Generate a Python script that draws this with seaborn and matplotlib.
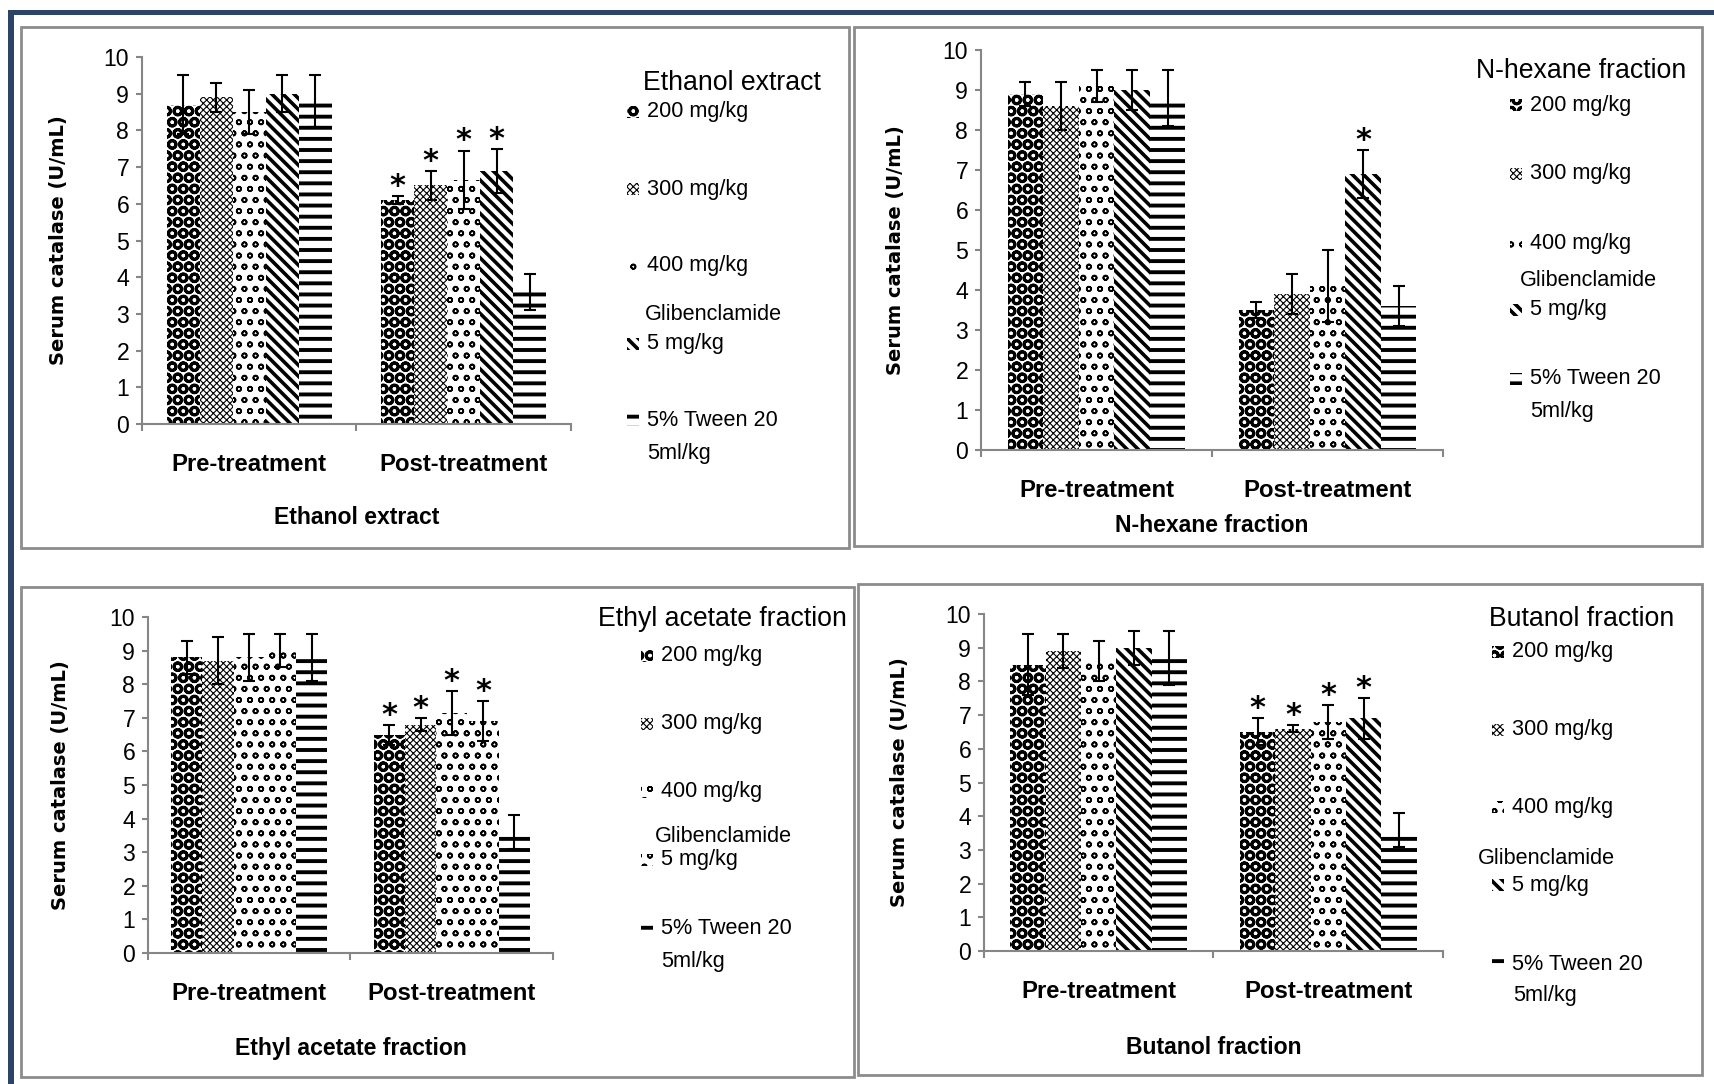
import numpy as np
import pandas as pd
import matplotlib
matplotlib.use("Agg")
import matplotlib.pyplot as plt
import seaborn as sns
from matplotlib.patches import Rectangle

# ---------------- data ----------------
periods = ["Pre-treatment", "Post-treatment"]
groups = ["200 mg/kg", "300 mg/kg", "400 mg/kg", "Glibenclamide\n5 mg/kg", "5% Tween 20\n5ml/kg"]
panel_titles = ["Ethanol extract", "N-hexane fraction", "Ethyl acetate fraction", "Butanol fraction"]
y_label = "Serum catalase (U/mL)"
y_ticks = [0, 1, 2, 3, 4, 5, 6, 7, 8, 9, 10]

ethanol_pre = [8.7, 8.9, 8.5, 9.0, 8.8]
ethanol_pre_err = [0.8, 0.4, 0.6, 0.5, 0.7]
ethanol_post = [6.1, 6.5, 6.65, 6.9, 3.6]
ethanol_post_err = [0.1, 0.4, 0.8, 0.6, 0.5]
ethanol_post_sig = [1, 1, 1, 1, 0]

hexane_pre = [8.9, 8.6, 9.1, 9.0, 8.8]
hexane_pre_err = [0.3, 0.6, 0.4, 0.5, 0.7]
hexane_post = [3.5, 3.9, 4.1, 6.9, 3.6]
hexane_post_err = [0.2, 0.5, 0.9, 0.6, 0.5]
hexane_post_sig = [0, 0, 0, 1, 0]

ethyl_pre = [8.8, 8.7, 8.8, 9.0, 8.8]
ethyl_pre_err = [0.5, 0.7, 0.7, 0.5, 0.7]
ethyl_post = [6.5, 6.8, 7.15, 6.9, 3.6]
ethyl_post_err = [0.3, 0.2, 0.65, 0.6, 0.5]
ethyl_post_sig = [1, 1, 1, 1, 0]

butanol_pre = [8.5, 8.9, 8.6, 9.0, 8.7]
butanol_pre_err = [0.9, 0.5, 0.6, 0.5, 0.8]
butanol_post = [6.5, 6.6, 6.8, 6.9, 3.6]
butanol_post_err = [0.4, 0.1, 0.5, 0.6, 0.5]
butanol_post_sig = [1, 1, 1, 1, 0]

panels_data = [
    (ethanol_pre, ethanol_pre_err, ethanol_post, ethanol_post_err, ethanol_post_sig),
    (hexane_pre, hexane_pre_err, hexane_post, hexane_post_err, hexane_post_sig),
    (ethyl_pre, ethyl_pre_err, ethyl_post, ethyl_post_err, ethyl_post_sig),
    (butanol_pre, butanol_pre_err, butanol_post, butanol_post_err, butanol_post_sig),
]

# ---------------- styles / layout ----------------
W, H, DPI = 1715, 1084, 200
sns.set_theme(style="white")
plt.rcParams["font.family"] = ["Liberation Sans", "DejaVu Sans"]
plt.rcParams["hatch.linewidth"] = 1.0

HATCHES = {
    "balls": ("OOO", 1.05),
    "cross": ("x" * 10, 0.4),
    "wave": ("ooo", 0.6),
    "diag": ("\\" * 6, 1.3),
    "hlines": ("---", 1.4),
}
series_hatch = [
    ["balls", "cross", "wave", "diag", "hlines"],
    ["balls", "cross", "wave", "diag", "hlines"],
    ["balls", "cross", "wave", "wave", "hlines"],
    ["balls", "cross", "wave", "diag", "hlines"],
]

# axes box in pixels: left, right, top(y=10), bottom(y=0)
axes_px = [(142, 571, 57, 424), (981, 1443, 50, 450), (148, 553, 617, 953), (984, 1443, 614, 951)]
xlabel_off = [-0.256, -0.19, -0.283, -0.285]
ylabel_off = [-0.195, -0.184, -0.215, -0.185]
panel_boxes = [(21, 27, 849, 548), (854, 27, 1702, 546), (21, 587, 854, 1077), (858, 584, 1702, 1075)]
legend_layout = [
    dict(title=(643, 83), mx=633, tx=647, ys=[112, 189, 265, 344, 420], gl=(645, 314), t2=(647, 454)),
    dict(title=(1476, 71), mx=1516, tx=1530, ys=[105, 174, 243, 310, 379], gl=(1520, 281), t2=(1530, 411)),
    dict(title=(598, 619), mx=647, tx=661, ys=[656, 724, 792, 860, 928], gl=(655, 837), t2=(661, 962)),
    dict(title=(1489, 619), mx=1498, tx=1512, ys=[652, 730, 807, 885, 964], gl=(1478, 859), t2=(1513, 995)),
]

GRAY = "#868686"


def fx(x):
    return x / W


def fy(y):
    return 1 - y / H


def style_patch(p, key):
    h, lw = HATCHES[key]
    p.set_facecolor("white")
    p.set_edgecolor("black")
    p.set_linewidth(0)
    p.set_hatch(h)
    if hasattr(p, "set_hatch_linewidth"):
        p.set_hatch_linewidth(lw)


fig = plt.figure(figsize=(W / DPI, H / DPI), dpi=DPI)
fig.patch.set_facecolor("white")

# outer page frame (top and left dark lines)
fig.add_artist(Rectangle((fx(8), fy(15)), fx(W - 8), 5 / H, transform=fig.transFigure,
                         facecolor="#2C4466", edgecolor="none", zorder=0))
fig.add_artist(Rectangle((fx(8), 0), 6 / W, fy(10), transform=fig.transFigure,
                         facecolor="#2C4466", edgecolor="none", zorder=0))

for k in range(4):
    x0, y0, x1, y1 = panel_boxes[k]
    fig.add_artist(Rectangle((fx(x0), fy(y1)), (x1 - x0) / W, (y1 - y0) / H, transform=fig.transFigure,
                             fill=False, edgecolor="#8C8C8C", linewidth=1.0, zorder=0))

    l, r, t, b = axes_px[k]
    ax = fig.add_axes([fx(l), fy(b), (r - l) / W, (b - t) / H])
    pre, pre_err, post, post_err, sig = panels_data[k]
    df = pd.DataFrame({
        "period": np.repeat(periods, len(groups)),
        "group": groups * 2,
        "value": list(pre) + list(post),
    })
    sns.barplot(data=df, x="period", y="value", hue="group", order=periods, hue_order=groups,
                palette={g: "white" for g in groups}, saturation=1, width=0.77,
                errorbar=None, legend=False, ax=ax)

    errs = [list(pre_err), list(post_err)]
    sigs = [[0] * len(groups), list(sig)]
    bar_containers = list(ax.containers)
    for i, cont in enumerate(bar_containers):
        xs, ys, es = [], [], []
        for j, bar in enumerate(cont):
            style_patch(bar, series_hatch[k][i])
            xc = bar.get_x() + bar.get_width() / 2
            xs.append(xc)
            ys.append(bar.get_height())
            es.append(errs[j][i])
            if sigs[j][i]:
                ax.text(xc, bar.get_height() + errs[j][i] + 0.03, "*", ha="center", va="baseline",
                        fontsize=11, fontweight="bold", family="DejaVu Sans", color="black")
        ax.errorbar(xs, ys, yerr=es, fmt="none", ecolor="black", elinewidth=0.75,
                    capsize=2.3, capthick=0.75, zorder=5)

    ax.set_xlim(-0.5, 1.5)
    ax.set_ylim(0, 10)
    ax.set_yticks(y_ticks)
    ax.set_yticklabels([str(v) for v in y_ticks])
    ax.set_xticks([-0.5, 0.5, 1.5], minor=True)
    for s in ["top", "right"]:
        ax.spines[s].set_visible(False)
    for s in ["left", "bottom"]:
        ax.spines[s].set_color(GRAY)
        ax.spines[s].set_linewidth(0.75)
    ax.tick_params(axis="y", left=True, length=2.3, width=0.75, color=GRAY, pad=2.3,
                   labelsize=8.3, labelcolor="black")
    ax.tick_params(axis="x", which="major", bottom=False, length=0, pad=10.3, labelsize=8.6,
                   labelcolor="black")
    ax.tick_params(axis="x", which="minor", bottom=True, length=2.5, width=0.75, color=GRAY)
    for lbl in ax.get_xticklabels():
        lbl.set_fontweight("bold")
    ax.grid(False)
    ax.set_facecolor("none")

    ax.set_xlabel(panel_titles[k], fontweight="bold", fontsize=8.3, color="black")
    ax.xaxis.set_label_coords(0.5, xlabel_off[k])
    ax.xaxis.label.set_va("center")
    ax.set_ylabel(y_label, family="DejaVu Sans", fontweight="bold", fontsize=7, color="black")
    ax.yaxis.set_label_coords(ylabel_off[k], 0.5)
    ax.yaxis.label.set_va("center")

    # legend (Excel-style, manually laid out)
    L = legend_layout[k]
    fig.text(fx(L["title"][0]), fy(L["title"][1]), panel_titles[k], fontsize=9.6,
             ha="left", va="center", color="black")
    for i, g in enumerate(groups):
        lines = g.split("\n")
        y = L["ys"][i]
        m = Rectangle((fx(L["mx"] - 6), fy(y + 6)), 12 / W, 12 / H, transform=fig.transFigure)
        style_patch(m, series_hatch[k][i])
        fig.add_artist(m)
        if len(lines) == 1:
            fig.text(fx(L["tx"]), fy(y), lines[0], fontsize=7.8, ha="left", va="center", color="black")
        elif i == 3:
            fig.text(fx(L["gl"][0]), fy(L["gl"][1]), lines[0], fontsize=7.8, ha="left", va="center",
                     color="black")
            fig.text(fx(L["tx"]), fy(y), lines[1], fontsize=7.8, ha="left", va="center", color="black")
        else:
            fig.text(fx(L["tx"]), fy(y), lines[0], fontsize=7.8, ha="left", va="center", color="black")
            fig.text(fx(L["t2"][0]), fy(L["t2"][1]), lines[1], fontsize=7.8, ha="left", va="center",
                     color="black")

fig.savefig("out.png", dpi=DPI, facecolor="white")
